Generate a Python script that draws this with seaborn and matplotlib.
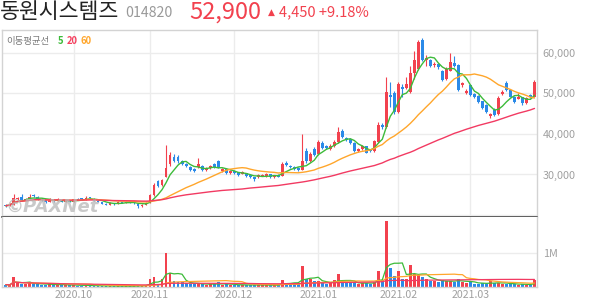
import numpy as np
import pandas as pd
import matplotlib
matplotlib.use("Agg")
import matplotlib.pyplot as plt
import seaborn as sns

# ---------------- data ----------------
opens = [22600, 22300, 22600, 24000, 24500, 23700, 24000, 24900, 24500, 24000,
         23600, 23300, 23800, 23500, 23800, 23300, 23500,
         23300, 24000, 24100, 23800, 24300, 24000, 23500, 23200, 22800, 22600,
         22900, 22800, 23200, 23000, 23300, 23100, 22800, 22300, 22600,
         23000, 25000, 28300, 27400, 29500, 32600, 34400, 34300, 33300, 32600,
         31900, 31400, 31900, 32100, 31000, 31600, 32700, 33300, 30900, 31300, 30300,
         30800, 30500, 30100, 30300, 29900, 29400, 29300, 29700, 29600, 30000,
         29300, 29900, 29700, 32900, 32200, 31800, 31600, 31100, 35800, 33400, 36400,
         35000, 37800, 37000, 36300, 36900, 38000, 40800, 39000, 38800, 37700,
         35800, 36200, 36900, 36000, 35800, 38000, 42300, 41800, 49600, 50000,
         45500, 51600, 51200, 50400, 55000, 56000, 63100, 58200, 58300, 56900,
         57300, 55600, 53600, 55600, 57500, 57000, 52000, 50100,
         52000, 49800, 49300, 48000, 47000, 44300, 46000, 44800, 49800, 52600,
         50800, 49200, 48700, 49000, 47500, 49600, 49200]
closes = [22300, 22600, 24300, 24200, 23700, 24000, 24500, 24600, 24000, 23700,
          23200, 23900, 23400, 23900, 23300, 23500, 23300,
          23900, 23800, 23900, 24300, 24100, 23500, 23200, 22800, 22600, 22900,
          22800, 23200, 23000, 23300, 23100, 22900, 22200, 22600, 23000,
          25000, 27400, 27200, 28700, 31500, 34800, 33400, 33200, 32600, 32100,
          31100, 30900, 32600, 31100, 31500, 32100, 31800, 31700, 31300, 30300, 30800,
          30300, 29900, 30600, 29700, 29300, 28800, 29800, 29900, 30000, 29400,
          29600, 29500, 32600, 32400, 31800, 31300, 31100, 33400, 33200, 35000, 34800,
          38000, 36500, 36600, 37000, 38000, 40500, 39300, 38500, 37700, 35900,
          36200, 36900, 35400, 35800, 38300, 42200, 41700, 50400, 49200, 45500,
          52300, 51000, 52200, 55000, 58200, 62700, 58300, 58600, 56700, 57300,
          56400, 53400, 55900, 57800, 56700, 50800, 52500, 50600,
          49600, 49200, 47900, 46500, 45500, 44800, 44700, 48800, 50400, 50800,
          49200, 47900, 49200, 47500, 48800, 49200, 52900]
highs = [22800, 22900, 25200, 24500, 25100, 24300, 25100, 25200, 24600, 24100,
         23700, 24100, 23900, 24200, 23900, 23700, 23600,
         24000, 24100, 24200, 24700, 24400, 24100, 23600, 23300, 22900, 23100,
         23000, 23400, 23300, 23500, 23400, 23200, 22900, 22800, 23200,
         25300, 27800, 28700, 29000, 37300, 35500, 35000, 34700, 33600, 32800,
         32100, 31600, 34100, 32300, 31800, 32400, 32900, 33500, 31600, 31500, 31100,
         31000, 30700, 30900, 30400, 30000, 29500, 30000, 30200, 30300, 30100,
         29800, 30000, 33000, 33200, 32400, 32000, 31800, 40000, 36500, 35500, 36800,
         38400, 38200, 37300, 37400, 38500, 41700, 41200, 39300, 39100, 38000,
         36600, 37300, 37100, 36300, 38600, 43000, 42800, 54000, 52900, 50500,
         52700, 52200, 54000, 56800, 60500, 63200, 63700, 59500, 58500, 57700,
         57500, 55800, 56500, 59900, 59200, 57300, 52900, 51000,
         52400, 50100, 49600, 48200, 47300, 45200, 46300, 49300, 50800, 53000,
         51000, 49400, 50000, 49200, 49100, 49800, 53300]
lows = [22100, 22200, 22500, 23800, 23500, 23600, 23900, 24400, 23800, 23500,
        23000, 23200, 23300, 23400, 23200, 23200, 23100,
        23200, 23600, 23700, 23700, 23900, 23400, 23100, 22700, 22400, 22500,
        22600, 22700, 22900, 22900, 23000, 22800, 21700, 22100, 22500,
        22900, 24800, 26900, 27200, 29300, 32000, 33000, 32900, 32300, 31800,
        30900, 30700, 31700, 30900, 30800, 31400, 31600, 31500, 30700, 30100, 30100,
        30100, 29700, 30000, 29500, 29100, 28500, 29200, 29600, 29500, 29200,
        29100, 29300, 29600, 32200, 31600, 31100, 30900, 31000, 32800, 33000, 34500,
        34800, 36200, 36300, 36100, 36700, 37800, 39000, 38200, 37400, 35600,
        35500, 36000, 35200, 35500, 35600, 37800, 41300, 41500, 46700, 45000,
        45200, 49200, 51000, 50200, 53500, 55800, 58000, 56700, 56400, 56600,
        56000, 53000, 53300, 55400, 56400, 50500, 51600, 49900,
        49400, 48900, 47600, 46200, 45200, 43800, 44400, 44600, 49600, 50500,
        49000, 47500, 48500, 47100, 47300, 48900, 49000]
volumes = [70000, 60000, 310000, 110000, 100000, 90000, 120000, 100000, 90000, 60000,
           70000, 100000, 60000, 70000, 60000, 50000, 60000,
           60000, 40000, 40000, 50000, 40000, 30000, 30000, 30000, 30000, 30000,
           20000, 30000, 20000, 30000, 20000, 20000, 60000, 40000, 60000,
           240000, 300000, 100000, 240000, 1000000, 430000, 180000, 150000, 140000, 110000,
           90000, 80000, 120000, 80000, 70000, 80000, 90000, 140000, 70000, 80000, 60000,
           60000, 60000, 70000, 60000, 60000, 70000, 60000, 50000, 50000, 60000,
           50000, 60000, 210000, 120000, 90000, 130000, 80000, 620000, 240000, 230000, 170000,
           190000, 110000, 100000, 110000, 200000, 390000, 150000, 120000, 110000, 140000,
           100000, 110000, 130000, 100000, 150000, 480000, 200000, 1950000, 570000, 330000,
           480000, 240000, 240000, 640000, 390000, 360000, 300000, 240000, 170000, 170000,
           160000, 200000, 180000, 170000, 160000, 240000, 150000, 130000,
           140000, 100000, 90000, 110000, 100000, 170000, 110000, 130000, 90000, 100000,
           80000, 90000, 70000, 80000, 70000, 60000, 210000]

month_tick_pos = [17, 36, 57, 78, 98, 116]
month_labels = ["2020.10", "2020.11", "2020.12", "2021.01", "2021.02", "2021.03"]
price_ticks = [20000, 30000, 40000, 50000, 60000]
price_tick_labels = ["", "30,000", "40,000", "50,000", "60,000"]
vol_ticks = [1000000]
vol_tick_labels = ["1M"]
ma_windows = [5, 20, 60]

stock_name = "동원시스템즈"
stock_code = "014820"
last_price = "52,900"
change_text = "4,450 +9.18%"

# ---------------- style ----------------
sns.set_theme(style="white")
plt.rcParams["font.family"] = ["Noto Sans CJK KR", "DejaVu Sans"]

UP = "#F2414E"
DOWN = "#2B8AE8"
MA_COLORS = {5: "#3DBB3A", 20: "#FFA62B", 60: "#F23A62"}
GRID = "#ECECEC"
BORDER = "#D3D3D3"
TICK = "#A0A0A0"

df = pd.DataFrame({"open": opens, "close": closes, "high": highs,
                   "low": lows, "volume": volumes})
df["idx"] = np.arange(len(df))
up = df["close"] >= df["open"]
colors = np.where(up, UP, DOWN)

W, H = 594, 304
fig = plt.figure(figsize=(W / 100, H / 100), dpi=100)
fig.patch.set_facecolor("white")

left = 2 / W
width = (537.3 - 2) / W
ax = fig.add_axes([left, 1 - 217.3 / H, width, (217.3 - 30) / H])
axv = fig.add_axes([left, 1 - 287 / H, width, (287 - 217.3) / H])

xlim = (-0.96, 132.7)

# ---------------- price panel ----------------
for a in (ax, axv):
    a.set_facecolor("white")
    a.set_xlim(*xlim)
    a.set_xticks(month_tick_pos)
    a.grid(False)
    for x in month_tick_pos:
        a.axvline(x, color=GRID, lw=1.0, zorder=0)

for p in price_ticks:
    ax.axhline(p, color=GRID, lw=1.0, zorder=0)

ax.vlines(df["idx"], df["low"], df["high"], colors=colors, lw=0.8, zorder=2)
body_h = np.maximum((df["close"] - df["open"]).abs(), 250)
body_b = np.minimum(df["open"], df["close"])
ax.bar(df["idx"], body_h, bottom=body_b, width=0.72, color=colors,
       linewidth=0, zorder=3)

for w in ma_windows:
    ma = df["close"].rolling(w, min_periods=1).mean()
    sns.lineplot(x=df["idx"], y=ma, ax=ax, color=MA_COLORS[w], lw=1.0,
                 zorder=4, legend=False)

ax.set_ylim(19450, 65600)
ax.yaxis.tick_right()
ax.set_yticks(price_ticks)
ax.set_yticklabels(price_tick_labels)
ax.set_xticklabels([])
ax.tick_params(axis="y", length=0, pad=4, labelsize=7.8, labelcolor=TICK)
ax.tick_params(axis="x", length=0)
ax.set_xlabel("")
ax.set_ylabel("")
for s in ("top", "left", "right"):
    ax.spines[s].set_color(BORDER)
    ax.spines[s].set_linewidth(1.0)
ax.spines["bottom"].set_color("#444444")
ax.spines["bottom"].set_linewidth(1.2)
ax.spines["bottom"].set_zorder(6)

# legend text inside the panel
ax.text(0.0075, 0.94, "이동평균선", transform=ax.transAxes,
        fontsize=6.8, color="#7A7A7A", va="center", ha="left")
ax.text(0.1045, 0.94, "5", transform=ax.transAxes, fontsize=6.8,
        color="#3DBB3A", va="center", ha="left", fontweight="bold")
ax.text(0.1215, 0.94, "20", transform=ax.transAxes, fontsize=6.8,
        color="#F5405F", va="center", ha="left", fontweight="bold")
ax.text(0.1475, 0.94, "60", transform=ax.transAxes, fontsize=6.8,
        color="#FFA62B", va="center", ha="left", fontweight="bold")

# watermark
ax.text(0.006, 0.055, "©PAXNet", transform=ax.transAxes, fontsize=13,
        color="#B8B8B8", alpha=0.75, fontweight="bold", style="italic",
        va="center", ha="left", family=["DejaVu Sans"], zorder=7)

# ---------------- volume panel ----------------
for v in vol_ticks:
    axv.axhline(v, color=GRID, lw=1.0, zorder=0)
axv.bar(df["idx"], df["volume"], width=0.72, color=colors, linewidth=0, zorder=2)
for w in ma_windows:
    vma = df["volume"].rolling(w, min_periods=1).mean()
    sns.lineplot(x=df["idx"], y=vma, ax=axv, color=MA_COLORS[w], lw=0.9,
                 zorder=3, legend=False)

axv.set_ylim(0, 2.07e6)
axv.yaxis.tick_right()
axv.set_yticks(vol_ticks)
axv.set_yticklabels(vol_tick_labels)
axv.set_xticklabels(month_labels)
axv.tick_params(axis="y", length=0, pad=4, labelsize=7.8, labelcolor=TICK)
axv.tick_params(axis="x", length=0, pad=2, labelsize=7.6, labelcolor=TICK)
axv.set_xlabel("")
axv.set_ylabel("")
axv.spines["top"].set_visible(False)
for s in ("left", "right", "bottom"):
    axv.spines[s].set_color(BORDER)
    axv.spines[s].set_linewidth(1.0)

# ---------------- header ----------------
fig.text(0 / W, 1 - 12 / H, stock_name, fontsize=15.6, color="#222222",
         va="center", ha="left")
fig.text(125 / W, 1 - 13 / H, stock_code, fontsize=10.2, color="#999999",
         va="center", ha="left")
fig.text(189 / W, 1 - 12 / H, last_price, fontsize=17.0, color=UP,
         va="center", ha="left")
fig.text(268 / W, 1 - 12 / H, "▲", fontsize=6.5, color=UP,
         va="center", ha="left", family=["DejaVu Sans"])
fig.text(279 / W, 1 - 12.5 / H, change_text, fontsize=10.5, color=UP,
         va="center", ha="left")

fig.savefig("out.png", dpi=100)
